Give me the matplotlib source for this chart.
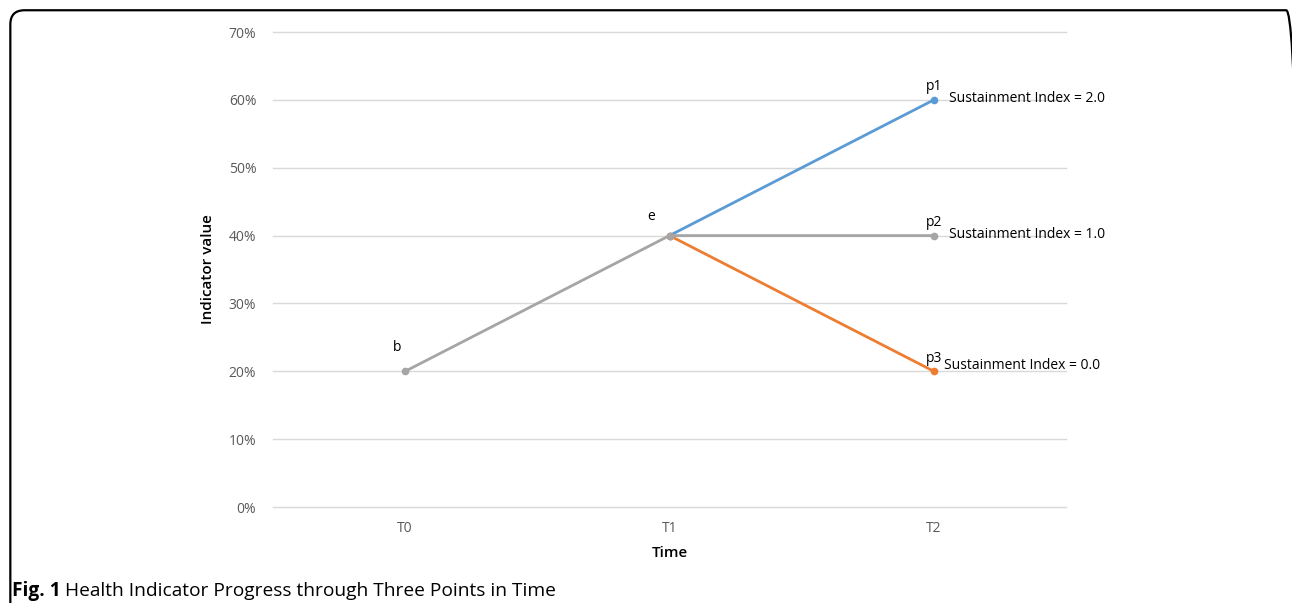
import matplotlib.pyplot as plt
from matplotlib.patches import FancyBboxPatch
from matplotlib.ticker import PercentFormatter

# data
time_points = ["T0", "T1", "T2"]
base_values = [0.20, 0.40, 0.40]      # b -> e -> p2
rise_values = [0.40, 0.60]            # e -> p1
drop_values = [0.40, 0.20]            # e -> p3
point_names = ["b", "e", "p1", "p2", "p3"]
index_labels = ["Sustainment Index = 2.0", "Sustainment Index = 1.0", "Sustainment Index = 0.0"]

GRAY = "#A5A5A5"
BLUE = "#5B9BD5"
ORANGE = "#ED7D31"
TICK = "#595959"

plt.rcParams["font.family"] = ["Open Sans", "DejaVu Sans"]

fig = plt.figure(figsize=(12.92, 6.03), dpi=100)

# rounded frame round the figure (right and bottom edges lie just outside the picture)
frame = FancyBboxPatch((0.008, -0.2), 0.9985, 1.183, boxstyle="round,pad=0,rounding_size=0.011",
                       transform=fig.transFigure, fill=False, edgecolor="black", linewidth=1.6,
                       mutation_aspect=2.14)
fig.patches.append(frame)

ax = fig.add_axes([0.2113, 0.1592, 0.6138, 0.7877])
x = [0.5, 1.5, 2.5]

ax.plot(x[1:], rise_values, color=BLUE, lw=2.0, marker="o", ms=4.5, zorder=3)
ax.plot(x[1:], drop_values, color=ORANGE, lw=2.0, marker="o", ms=4.5, zorder=3)
ax.plot(x, base_values, color=GRAY, lw=2.0, marker="o", ms=4.5, zorder=4)

ax.set_xlim(0, 3)
ax.set_ylim(0, 0.70)
ax.set_yticks([i / 10 for i in range(8)])
ax.yaxis.set_major_formatter(PercentFormatter(1.0, decimals=0))
ax.set_xticks(x)
ax.set_xticklabels(time_points)
ax.grid(axis="y", color="#D9D9D9", lw=1.0)
for gl in ax.get_ygridlines():
    gl.set_clip_on(False)
ax.set_axisbelow(True)
for s in ax.spines.values():
    s.set_visible(False)
ax.tick_params(length=0, colors=TICK, labelsize=10)
ax.tick_params(axis="y", pad=12)
ax.tick_params(axis="x", pad=10)

ax.set_ylabel("Indicator value", fontsize=11, fontweight="semibold", labelpad=10)
ax.set_xlabel("Time", fontsize=11, fontweight="semibold", labelpad=7)

# point labels
fs = 10
ax.annotate(point_names[0], (x[0], base_values[0]), xytext=(-6, 12), textcoords="offset points",
            ha="center", va="bottom", fontsize=fs)
ax.annotate(point_names[1], (x[1], base_values[1]), xytext=(-13, 8), textcoords="offset points",
            ha="center", va="bottom", fontsize=fs)
ends = [rise_values[-1], base_values[-1], drop_values[-1]]
for name, val in zip(point_names[2:], ends):
    ax.annotate(name, (x[2], val), xytext=(0, 4), textcoords="offset points",
                ha="center", va="bottom", fontsize=fs)
offsets = [(11, 1), (11, 1), (7, 4)]
for lab, val, off in zip(index_labels, ends, offsets):
    ax.annotate(lab, (x[2], val), xytext=off, textcoords="offset points",
                ha="left", va="center", fontsize=fs)

# caption: bold figure number followed by the title
cap_y = 1 - 596 / 603
t1 = fig.text(0.009, cap_y, "Fig. 1", fontsize=13.8, fontweight="bold", ha="left", va="baseline")
fig.canvas.draw()
bb = t1.get_window_extent(fig.canvas.get_renderer())
fig.text(bb.x1 / fig.bbox.width + 0.004, cap_y,
         "Health Indicator Progress through Three Points in Time",
         fontsize=13.8, ha="left", va="baseline")

fig.savefig("out.png", dpi=100)
